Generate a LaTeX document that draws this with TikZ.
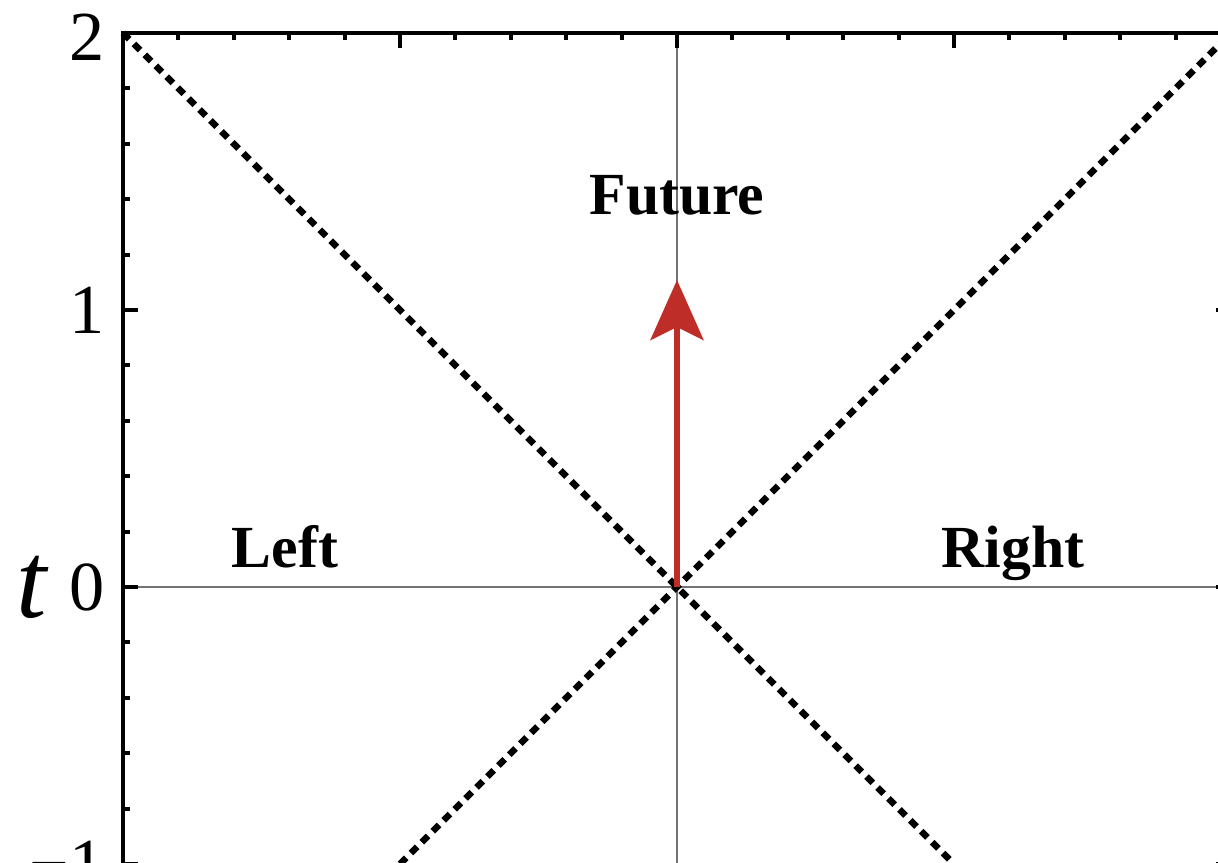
\documentclass[tikz,border=0pt]{standalone}
\usepackage{fontspec}
\setmainfont{Liberation Serif}
\usetikzlibrary{arrows.meta,positioning}
\definecolor{arrowred}{RGB}{190,45,40}

\begin{document}
\begin{tikzpicture}[x=2.77cm,y=2.77cm,
   frame/.style={draw,line width=1.1pt},
   axisline/.style={draw=black!55,line width=0.8pt},
   cone/.style={line width=1.9pt,dash pattern=on 2.5pt off 1.9pt},
   region/.style={font=\fontsize{17}{20}\selectfont\bfseries,anchor=base,inner sep=0pt},
   ticklabel/.style={font=\fontsize{20}{24}\selectfont,anchor=east,inner sep=0pt},
   >={Stealth[length=6mm,width=5.3mm,inset=1.3mm]}]
  \useasboundingbox (-2.444,-0.996) rectangle (1.953,2.119);
  \clip (-2.444,-0.996) rectangle (1.953,2.119);
  \coordinate (sw) at (-2,-1);
  \coordinate (nw) at (-2,2);
  \coordinate (ne) at (2,2);
  \coordinate (se) at (2,-1);
  \coordinate (b1) at (-1,-1);
  \coordinate (b2) at (1,-1);
  \coordinate (origin) at (0,0);
  \coordinate (tip) at (0,1.108);
  % axes through the origin
  \draw[axisline] (-2,0) -- (2,0);
  \draw[axisline] (0,-1) -- (0,2);
  % light cone
  \draw[cone] (nw) -- (b2);
  \draw[cone] (b1) -- (ne);
  % frame with ticks (bottom edge lies just outside the view)
  \draw[frame] (sw) -- (nw) -- (ne) -- (se);
  \foreach \v in {-2,-1.8,...,2.01}
    \draw[frame] (\v,2) -- ++(0,-0.07cm);
  \foreach \v in {-0.8,-0.6,...,2.01} {
    \draw[frame] (-2,\v) -- ++(0.07cm,0);
    \draw[frame] (2,\v) -- ++(-0.07cm,0);
  }
  \foreach \v in {-2,...,2}
    \draw[frame] (\v,2) -- ++(0,-0.15cm);
  \foreach \v in {-1,...,2} {
    \draw[frame] (-2,\v) -- ++(0.15cm,0);
    \draw[frame] (2,\v) -- ++(-0.15cm,0);
  }
  % time direction
  \draw[->,arrowred,line width=1.8pt] (origin) -- (tip);
  \node[region] (future) at (0,1.343) {Future};
  \node[region] (left) at (-1.415,0.072) {Left};
  \node[region] (right) at (1.213,0.072) {Right};
  % tick labels
  \node[ticklabel] (lab2) at (-2.065,1.985) {2};
  \node[ticklabel] (lab1) at (-2.065,1) {1};
  \node[ticklabel] (lab0) at (-2.065,0) {0};
  \node[ticklabel] (labm1) at (-2.065,-1) {−1};
  \node[font=\fontsize{31}{34}\selectfont\itshape,inner sep=0pt] (tname) at (-2.33,0) {t};
\end{tikzpicture}
\end{document}
